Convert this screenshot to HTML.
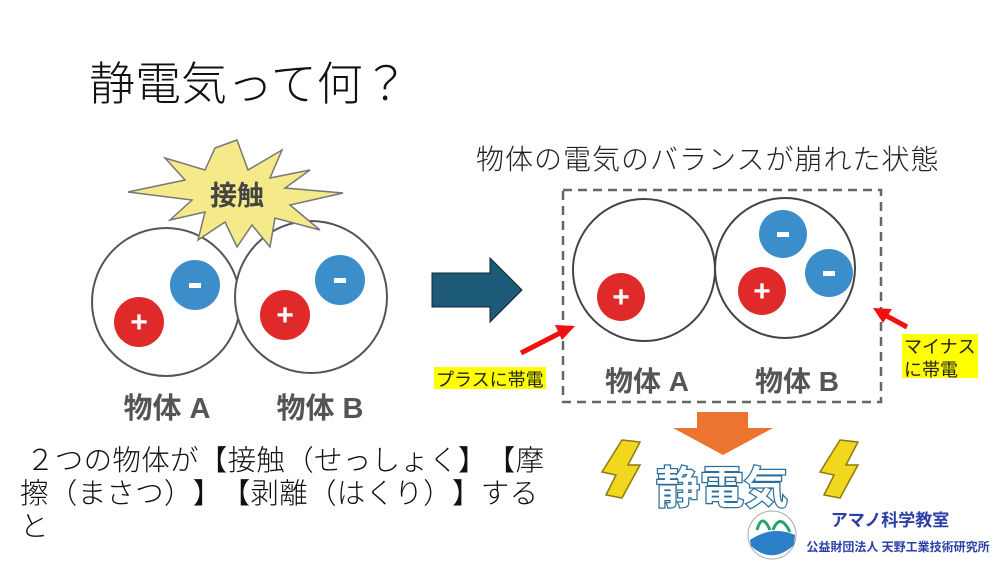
<!DOCTYPE html>
<html><head><meta charset="utf-8">
<style>
body{margin:0;width:1000px;height:563px;background:#fff;overflow:hidden;position:relative;font-family:"Liberation Sans","Noto Sans CJK JP",sans-serif;}
.t{position:absolute;white-space:nowrap;font-weight:300;}
.jp{font-family:"Noto Sans CJK JP",sans-serif;font-feature-settings:"chws" 0,"halt" 0,"palt" 0;text-spacing-trim:space-all;}
</style></head><body>
<div class="t" style="left:89px;top:48px;font-size:46px;color:#111;">静電気って何？</div>
<div class="t" style="left:476px;top:138px;font-size:28px;color:#222;letter-spacing:1px;">物体の電気のバランスが崩れた状態</div>
<div class="t jp" style="left:20px;top:442px;font-size:28.5px;line-height:33px;color:#111;letter-spacing:0.3px;"><span style="display:inline-block;width:6px"></span>２つの物体が【接触（せっしょく】【摩<br>擦（まさつ）】【剥離（はくり）】する<br>と</div>
<svg width="1000" height="563" style="position:absolute;left:0;top:0" font-family="Liberation Sans,Noto Sans CJK JP,sans-serif">
<circle cx="166" cy="302" r="74" fill="#fff" stroke="#555" stroke-width="2"/>
<circle cx="311" cy="297" r="76" fill="#fff" stroke="#555" stroke-width="2"/>
<polygon points="237,140 248,170 282,150 270,178 310,170 285,188 343,193 290,205 320,230 275,218 270,247 252,225 237,247 225,222 198,240 205,212 170,220 192,200 128,192 185,180 165,158 205,170 215,148" fill="#f5ea8a" stroke="#777" stroke-width="1.5"/>
<text x="237" y="205" text-anchor="middle" font-size="27" font-weight="bold" fill="#444">接触</text>
<circle cx="139" cy="322" r="25" fill="#e02a2a"/><text x="139" y="332" text-anchor="middle" font-size="30" font-weight="bold" fill="#fff">+</text>
<circle cx="195" cy="285" r="25" fill="#3b8ec9"/><rect x="189" y="283" width="12" height="5" fill="#fff"/>
<circle cx="285" cy="315" r="25" fill="#e02a2a"/><text x="285" y="325" text-anchor="middle" font-size="30" font-weight="bold" fill="#fff">+</text>
<circle cx="340" cy="280" r="25" fill="#3b8ec9"/><rect x="334" y="278" width="12" height="5" fill="#fff"/>
<text x="167" y="418" text-anchor="middle" font-size="29" font-weight="bold" fill="#555">物体 A</text>
<text x="320" y="418" text-anchor="middle" font-size="29" font-weight="bold" fill="#555">物体 B</text>
<polygon points="432,273 490,273 490,258 522,290 490,322 490,307 432,307" fill="#1c5a78" stroke="#123" stroke-width="1"/>
<rect x="563" y="190" width="318" height="212" fill="none" stroke="#666" stroke-width="2.5" stroke-dasharray="9,6"/>
<circle cx="644" cy="270" r="71" fill="#fff" stroke="#444" stroke-width="2"/>
<circle cx="785" cy="268" r="70" fill="#fff" stroke="#444" stroke-width="2"/>
<circle cx="621" cy="297" r="24" fill="#e02a2a"/><text x="621" y="307" text-anchor="middle" font-size="30" font-weight="bold" fill="#fff">+</text>
<circle cx="762" cy="291" r="24" fill="#e02a2a"/><text x="762" y="301" text-anchor="middle" font-size="30" font-weight="bold" fill="#fff">+</text>
<circle cx="783" cy="234" r="24" fill="#3b8ec9"/><rect x="777" y="232" width="12" height="5" fill="#fff"/>
<circle cx="829" cy="273" r="24" fill="#3b8ec9"/><rect x="823" y="271" width="12" height="5" fill="#fff"/>
<text x="647" y="391" text-anchor="middle" font-size="28" font-weight="bold" fill="#555">物体 A</text>
<text x="797" y="391" text-anchor="middle" font-size="28" font-weight="bold" fill="#555">物体 B</text>
<line x1="521" y1="353" x2="560" y2="333" stroke="#f01010" stroke-width="5"/>
<polygon points="575,326 555,325 562,340" fill="#f01010"/>
<line x1="907" y1="327" x2="885" y2="315" stroke="#f01010" stroke-width="5"/>
<polygon points="873,308 892,309 883,323" fill="#f01010"/>
<rect x="434" y="367" width="112" height="22" fill="#ffff00"/>
<text x="436" y="386" font-size="18" fill="#222">プラスに帯電</text>
<rect x="902" y="334" width="76" height="44" fill="#ffff00"/>
<text x="904" y="353" font-size="18" fill="#222">マイナス</text>
<text x="904" y="376" font-size="18" fill="#222">に帯電</text>
<polygon points="697,412 748,412 748,428 773,428 723,455 673,428 697,428" fill="#ec7330"/>
<polygon points="622,440 640,442 628,465 640,465 622,498 606,495 616,475 602,472" fill="#f2d71f" stroke="#8a7a10" stroke-width="1.5"/>
<polygon points="840,440 858,442 846,465 858,465 840,498 824,495 834,475 820,472" fill="#f2d71f" stroke="#8a7a10" stroke-width="1.5"/>
<text x="722" y="503" text-anchor="middle" font-size="44" font-weight="bold" fill="#fff" stroke="#2d6e99" stroke-width="2.5" paint-order="stroke">静電気</text>
<circle cx="772" cy="535" r="24" fill="#fff" stroke="#aaa"/>
<path d="M750,540 Q772,525 795,535 L794,545 Q772,565 751,546Z" fill="#2a7fc7"/>
<path d="M757,530 Q762,512 770,530 M773,530 Q780,512 790,532" stroke="#2aa06a" stroke-width="3" fill="none"/>
<text x="890" y="526" text-anchor="middle" font-size="17" font-weight="bold" fill="#2b3fa8">アマノ科学教室</text>
<text x="898" y="551" text-anchor="middle" font-size="12" font-weight="bold" fill="#2b3fa8">公益財団法人 天野工業技術研究所</text>
</svg>
</body></html>
